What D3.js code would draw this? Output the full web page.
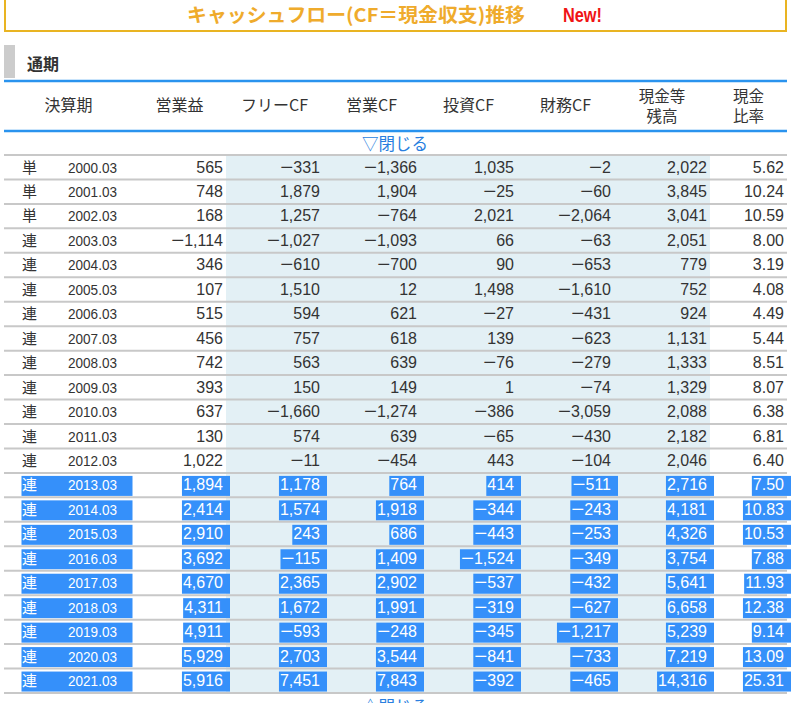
<!DOCTYPE html>
<html><head><meta charset="utf-8">
<script src="https://cdn.jsdelivr.net/npm/d3@7"></script>
<style>
html,body{margin:0;padding:0;background:#fff;overflow:hidden}
svg{display:block}
</style></head>
<body>
<script>
const title = "キャッシュフロー(CF＝現金収支)推移";
const titleNew = "New!";
const sectionLabel = "通期";
const toggleTop = "▽閉じる";
const toggleBottom = "△閉じる";
const headers = [["決算期"],["営業益"],["フリーCF"],["営業CF"],["投資CF"],["財務CF"],["現金等","残高"],["現金","比率"]];
const kinds = ["単","単","単","連","連","連","連","連","連","連","連","連","連","連","連","連","連","連","連","連","連","連"];
const periods = ["2000.03","2001.03","2002.03","2003.03","2004.03","2005.03","2006.03","2007.03","2008.03","2009.03","2010.03","2011.03","2012.03","2013.03","2014.03","2015.03","2016.03","2017.03","2018.03","2019.03","2020.03","2021.03"];
const operatingProfit = [565,748,168,-1114,346,107,515,456,742,393,637,130,1022,1894,2414,2910,3692,4670,4311,4911,5929,5916];
const freeCF = [-331,1879,1257,-1027,-610,1510,594,757,563,150,-1660,574,-11,1178,1574,243,-115,2365,1672,-593,2703,7451];
const operatingCF = [-1366,1904,-764,-1093,-700,12,621,618,639,149,-1274,639,-454,764,1918,686,1409,2902,1991,-248,3544,7843];
const investingCF = [1035,-25,2021,66,90,1498,-27,139,-76,1,-386,-65,443,414,-344,-443,-1524,-537,-319,-345,-841,-392];
const financingCF = [-2,-60,-2064,-63,-653,-1610,-431,-623,-279,-74,-3059,-430,-104,-511,-243,-253,-349,-432,-627,-1217,-733,-465];
const cashBalance = [2022,3845,3041,2051,779,752,924,1131,1333,1329,2088,2182,2046,2716,4181,4326,3754,5641,6658,5239,7219,14316];
const cashRatio = [5.62,10.24,10.59,8.00,3.19,4.08,4.49,5.44,8.51,8.07,6.38,6.81,6.40,7.50,10.83,10.53,7.88,11.93,12.38,9.14,13.09,25.31];
const selectedFrom = "2013.03";

const W = 800, H = 703;
const svg = d3.select("body").append("svg").attr("width", W).attr("height", H);

const colEdges = [4,133,226,323,420,517,614,710,787];
const numFont = "'Liberation Sans', Arial, sans-serif";
const jpFont = "'Noto Sans CJK JP', sans-serif";
const textCol = "#333";
const selBlue = "#3590fa";
const lightBlue = "#e3f0f5";

// Title box
svg.append("rect").attr("x",5).attr("y",-2).attr("width",781).attr("height",33)
  .attr("fill","none").attr("stroke","#e9b422").attr("stroke-width",2);
svg.append("text").attr("x",187).attr("y",22).attr("font-family",jpFont).attr("font-weight","bold").attr("font-size",19)
  .attr("fill","#efab2c").attr("textLength",338).attr("lengthAdjust","spacingAndGlyphs").text(title);
svg.append("text").attr("x",563).attr("y",22).attr("font-family",numFont).attr("font-weight","bold").attr("font-size",20)
  .attr("fill","#f01414").attr("textLength",39).attr("lengthAdjust","spacingAndGlyphs").text(titleNew);

// Section header
svg.append("rect").attr("x",4).attr("y",45).attr("width",11).attr("height",33).attr("fill","#cccccc");
svg.append("text").attr("x",27).attr("y",70).attr("font-family",jpFont).attr("font-weight","bold")
  .attr("font-size",16).attr("fill","#333").text(sectionLabel);

// Header lines
[81,131].forEach(y => svg.append("line").attr("x1",4).attr("x2",787).attr("y1",y).attr("y2",y)
  .attr("stroke","#2a93ee").attr("stroke-width",2.5));

// Header labels
headers.forEach((h,i) => {
  const cx = (colEdges[i]+colEdges[i+1])/2;
  const ys = h.length === 1 ? [111] : [102, 122];
  h.forEach((s,j) => svg.append("text").attr("x",cx).attr("y",ys[j]).attr("text-anchor","middle")
    .attr("font-family",jpFont).attr("font-size",h.length === 1 ? 16 : 15.5).attr("fill","#333").text(s));
});

svg.append("text").attr("x",395).attr("y",150).attr("text-anchor","middle").attr("font-family",jpFont)
  .attr("font-size",16.5).attr("fill","#2a7fe0").text(toggleTop);

// Rows
const y = d3.scaleBand().domain(periods).range([155, 693]);
const cols = [operatingProfit, freeCF, operatingCF, investingCF, financingCF, cashBalance, cashRatio];
const fmtInt = v => d3.format(",")(Math.abs(v));
const fmtRatio = v => d3.format(".2f")(v);

// light blue band
svg.append("rect").attr("x",colEdges[2]).attr("y",y.range()[0]).attr("width",colEdges[7]-colEdges[2])
  .attr("height",y.range()[1]-y.range()[0]).attr("fill",lightBlue);

const selIdx = periods.indexOf(selectedFrom);
const rows = svg.append("g");
periods.forEach((p,i) => {
  const top = y(p);
  const sel = i >= selIdx;
  const g = rows.append("g");
  const fill = sel ? "#fff" : textCol;
  if (sel) {
    g.append("rect").attr("x",21.5).attr("y",top+3).attr("width",111).attr("height",20).attr("fill",selBlue);
  }
  g.append("text").attr("x",22).attr("y",top+17.5).attr("font-family",jpFont).attr("font-size",15)
    .attr("fill",fill).text(kinds[i]);
  g.append("text").attr("x",68).attr("y",top+17.5).attr("font-family",numFont).attr("font-size",14)
    .attr("textLength",49).attr("lengthAdjust","spacingAndGlyphs")
    .attr("fill",fill).text(p);
  cols.forEach((arr,c) => {
    const rx = colEdges[c+2] - 3;
    const v = arr[i];
    const t = g.append("text").attr("x",rx).attr("y",top+17.5).attr("text-anchor","end")
      .attr("font-family",numFont).attr("font-size",16).attr("fill",fill);
    if (v < 0) t.append("tspan").attr("font-size",17).attr("textLength",13).attr("lengthAdjust","spacingAndGlyphs").text("−");
    t.append("tspan").text(c === 6 ? fmtRatio(v) : fmtInt(v));
    if (sel) {
      const w = t.node().getComputedTextLength();
      g.insert("rect","text").attr("x",rx-w-1).attr("y",top+3).attr("width",w+8).attr("height",20).attr("fill",selBlue);
    }
  });
});

// Row separators
const edges = periods.map(p => y(p)).concat([y.range()[1]]);
svg.append("g").selectAll("line").data(edges).join("line")
  .attr("x1",4).attr("x2",787).attr("y1",d=>d).attr("y2",d=>d)
  .attr("stroke","#c8c8c8").attr("stroke-width",2);

svg.append("text").attr("x",395).attr("y",713).attr("text-anchor","middle").attr("font-family",jpFont)
  .attr("font-size",16.5).attr("fill","#2a7fe0").text(toggleBottom);
</script>
</body></html>
